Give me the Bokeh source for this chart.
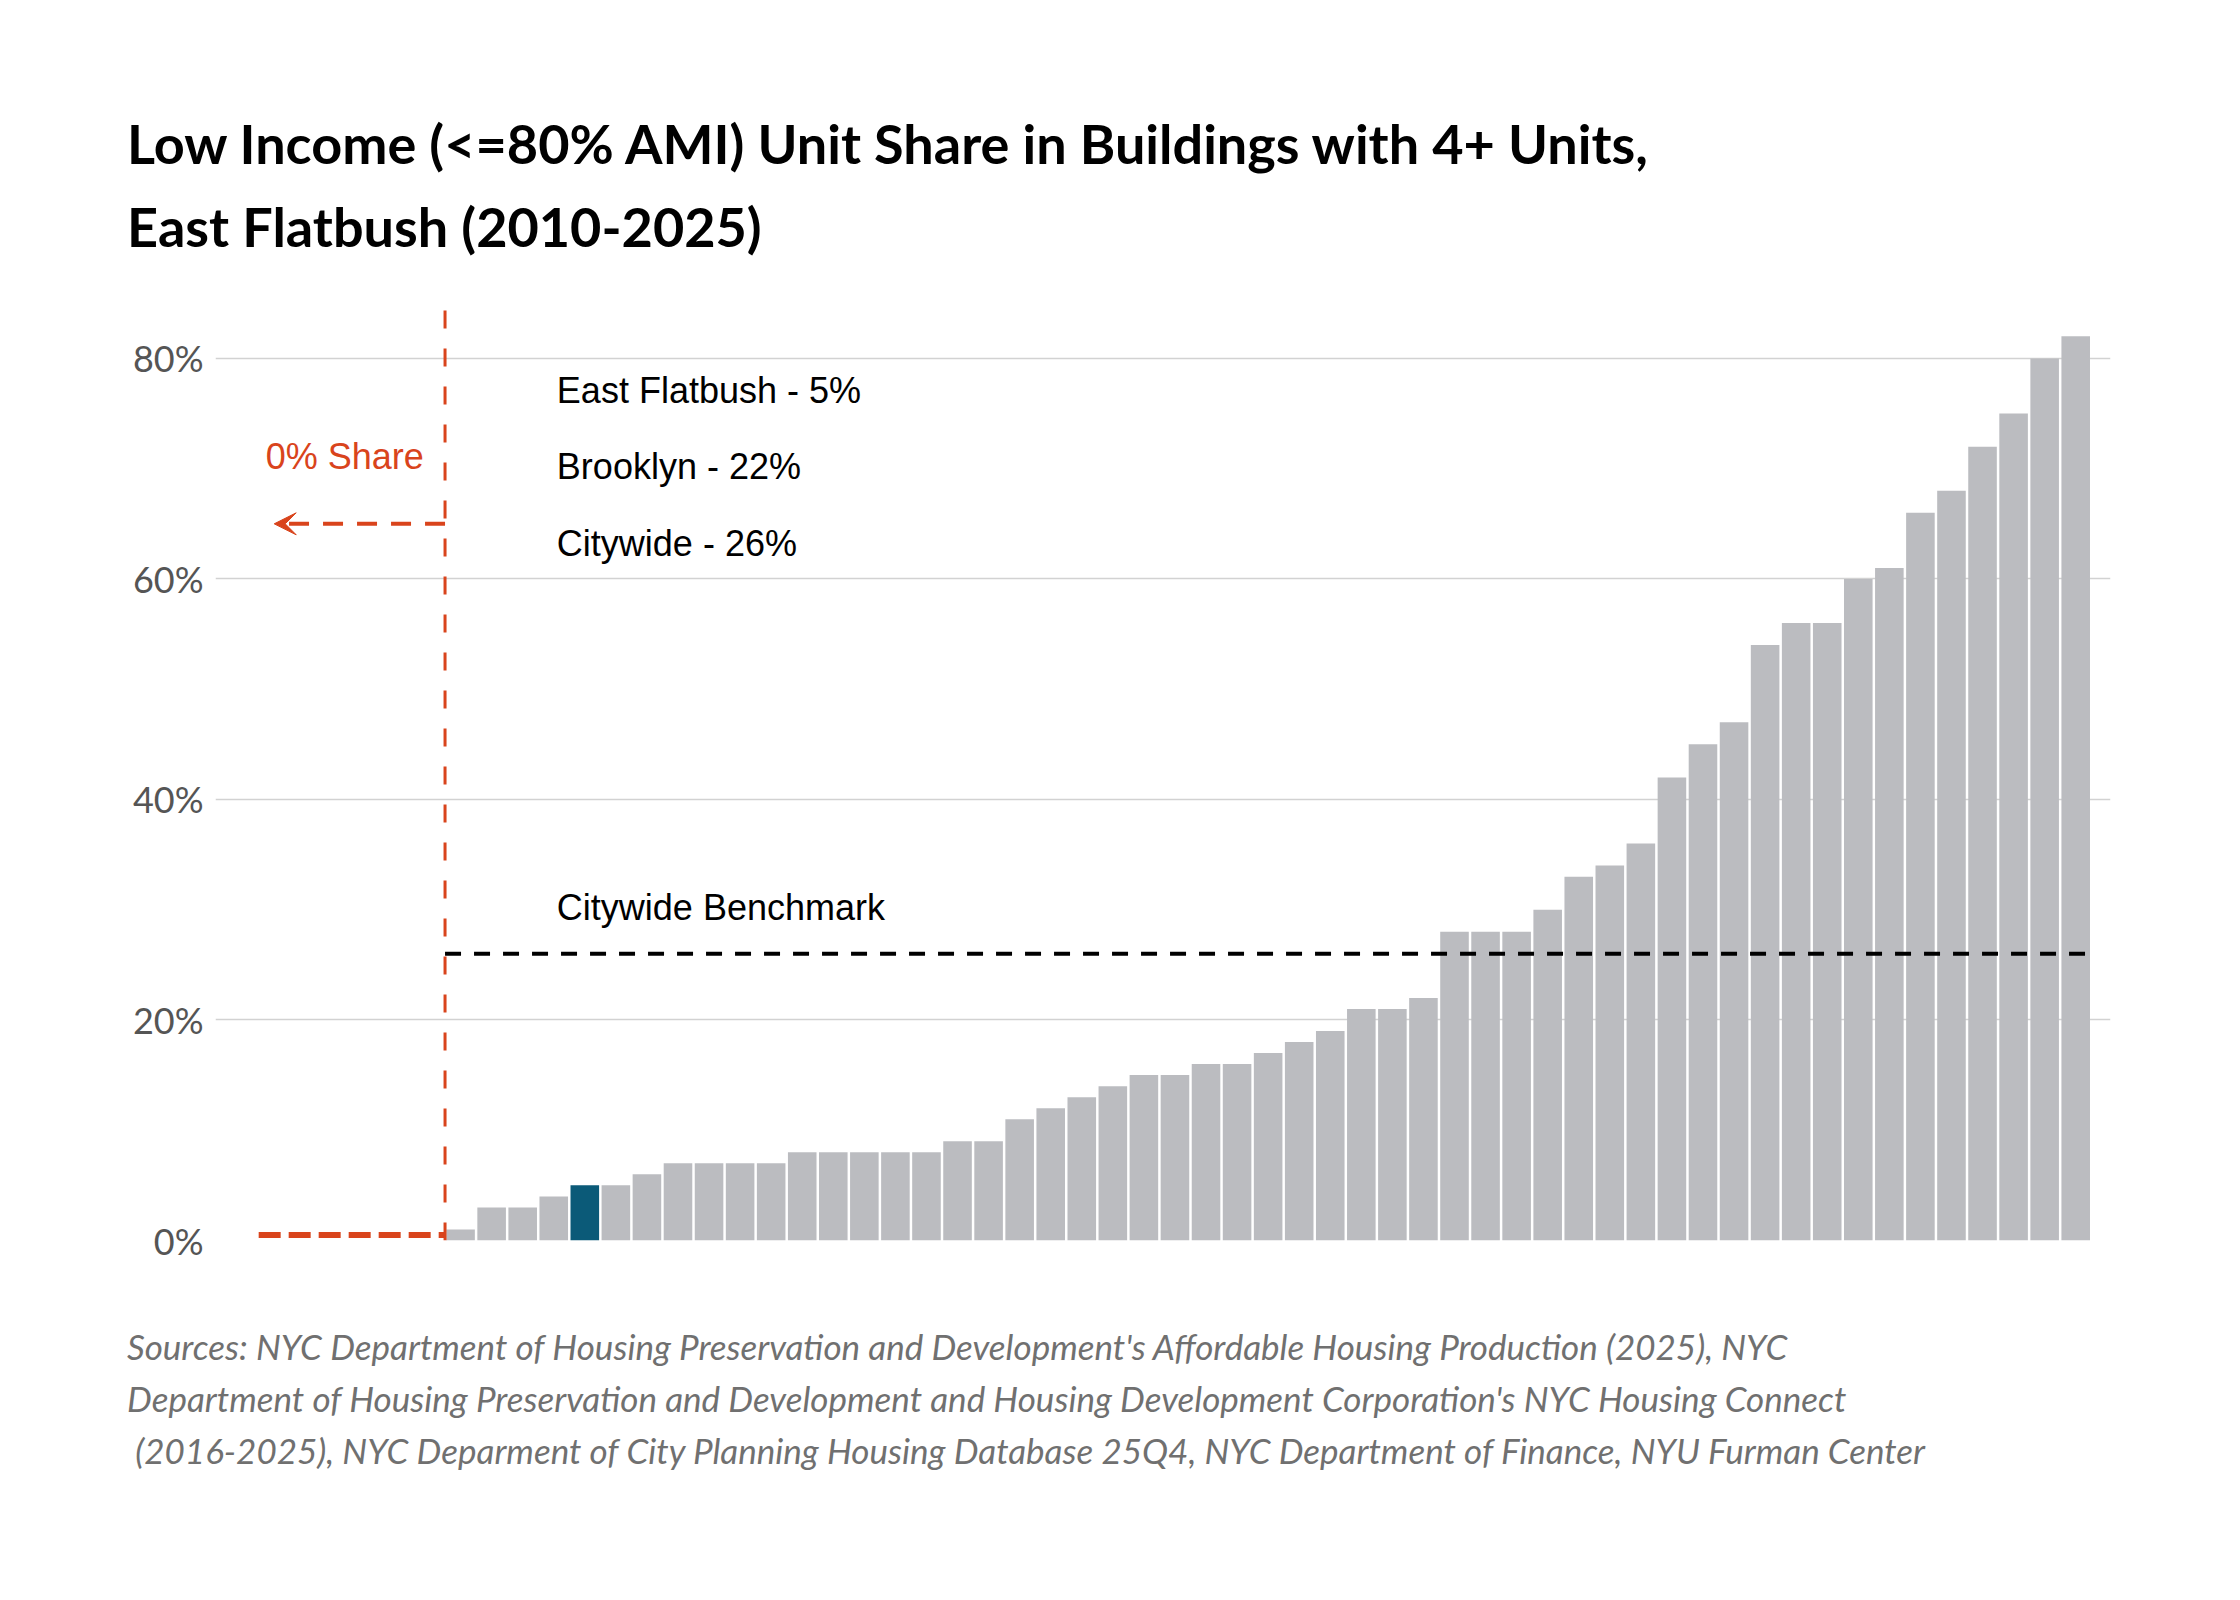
from bokeh.plotting import figure
from bokeh.models import Range1d, Label, NumeralTickFormatter, FixedTicker, Arrow, VeeHead, Div
from bokeh.layouts import column
from bokeh.embed import file_html
from bokeh.resources import INLINE

zero_count = 6
values = [1, 3, 3, 4, 5, 5, 6, 7, 7, 7, 7, 8, 8, 8, 8, 8, 9, 9, 11, 12, 13, 14, 15, 15,
          16, 16, 17, 18, 19, 21, 21, 22, 28, 28, 28, 30, 33, 34, 36, 42, 45, 47, 54, 56,
          56, 60, 61, 66, 68, 72, 75, 80, 82]
highlight_index = 4
benchmark = 0.26
y_ticks = [0, 0.2, 0.4, 0.6, 0.8]
stats = ["East Flatbush - 5%", "Brooklyn - 22%", "Citywide - 26%"]
title_lines = ["Low Income (&lt;=80% AMI) Unit Share in Buildings with 4+ Units,",
               "East Flatbush (2010-2025)"]
source_lines = ["Sources: NYC Department of Housing Preservation and Development's Affordable Housing Production (2025), NYC",
                "Department of Housing Preservation and Development and Housing Development Corporation's NYC Housing Connect",
                "&nbsp;(2016-2025), NYC Deparment of City Planning Housing Database 25Q4, NYC Department of Finance, NYU Furman Center"]

RED = "#d9441c"
GREY = "#bbbcc0"
BLUE = "#0b5a78"

title_div = Div(text="<br>".join(title_lines), width=2224, height=290, margin=0,
                styles={"font-family": "Lato", "font-weight": "bold", "font-size": "54px",
                        "line-height": "83px", "color": "black", "padding-top": "102px",
                        "padding-left": "127px", "white-space": "nowrap", "box-sizing": "border-box"})

p = figure(width=2224, height=1010, output_backend="svg", toolbar_location=None,
           x_range=Range1d(-1.89, 59.12), y_range=Range1d(0, 0.848), margin=0,
           min_border_left=215, min_border_right=114, min_border_top=15, min_border_bottom=60)
p.outline_line_color = None
p.xaxis.visible = False
p.xgrid.grid_line_color = None
p.ygrid.grid_line_color = "#d2d2d2"
p.ygrid.grid_line_width = 1.5
p.yaxis.ticker = FixedTicker(ticks=y_ticks)
p.yaxis.formatter = NumeralTickFormatter(format="0%")
p.yaxis.axis_line_color = None
p.yaxis.major_tick_line_color = None
p.yaxis.minor_tick_line_color = None
p.yaxis.major_label_text_font = "Lato"
p.yaxis.major_label_text_font_size = "36px"
p.yaxis.major_label_text_color = "#555555"
p.yaxis.major_label_standoff = 6

xs = [zero_count + i for i in range(len(values))]
tops = [v / 100 for v in values]
colors = [BLUE if i == highlight_index else GREY for i in range(len(values))]
p.vbar(x=xs, top=tops, bottom=0, width=0.92, color=colors, line_color=None)

p.segment(x0=[-0.5], y0=[0.005], x1=[zero_count - 0.5], y1=[0.005], line_color=RED,
          line_width=6, line_dash="22 8")
p.segment(x0=[zero_count - 0.5], y0=[0], x1=[zero_count - 0.5], y1=[0.848], line_color=RED,
          line_width=3, line_dash="18 20")
p.segment(x0=[zero_count - 0.5], y0=[benchmark], x1=[xs[-1] + 0.5], y1=[benchmark],
          line_color="black", line_width=4, line_dash="16 13")
p.add_layout(Arrow(x_start=zero_count - 0.5, y_start=0.65, x_end=0.0, y_end=0.65,
                   line_color=RED, line_width=4, line_dash="20 14",
                   end=VeeHead(size=22, fill_color=RED, line_color=RED)))
p.add_layout(Label(x=2.27, y=0.711, text="0% Share", text_color=RED, text_font="Liberation Sans",
                   text_font_size="36px", text_align="center", text_baseline="middle"))

for t, yv in zip(stats, [0.771, 0.702, 0.632]):
    p.add_layout(Label(x=9.1, y=yv, text=t, text_font="Liberation Sans", text_font_size="36px",
                       text_baseline="middle", text_color="black"))
p.add_layout(Label(x=9.1, y=0.302, text="Citywide Benchmark", text_font="Liberation Sans",
                   text_font_size="36px", text_baseline="middle", text_color="black"))

src_div = Div(text="<br>".join(source_lines), width=2224, height=260, margin=0,
              styles={"font-family": "Lato", "font-style": "italic", "font-size": "35px",
                      "line-height": "52px", "color": "#707070", "padding-top": "20px",
                      "padding-left": "127px", "white-space": "nowrap", "box-sizing": "border-box"})

layout = column(title_div, p, src_div, spacing=0)
open("out.html", "w").write(file_html(layout, INLINE))
